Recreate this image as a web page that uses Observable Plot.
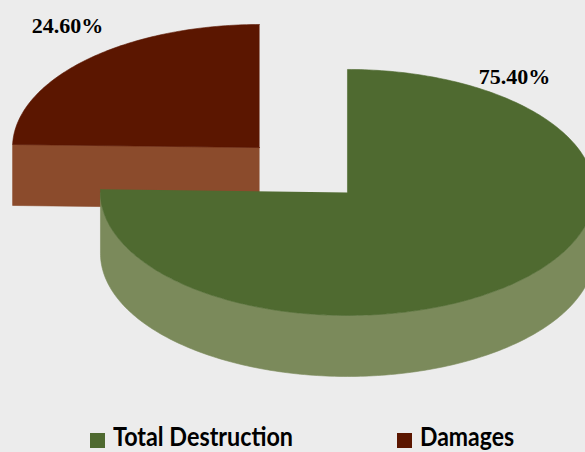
<!DOCTYPE html>
<html><head><meta charset="utf-8">
<script src="https://cdn.jsdelivr.net/npm/d3@7"></script>
<script src="https://cdn.jsdelivr.net/npm/@observablehq/plot@0.6"></script>
<style>
html,body{margin:0;padding:0;background:#ececec;overflow:hidden;width:585px;height:452px}
#chart svg{display:block}
#legend{position:absolute;left:0;top:0;width:585px;height:452px;font-family:Lato,"Open Sans",sans-serif;font-weight:bold;font-size:27px;color:#000}
.sw{position:absolute;width:15px;height:15px}
.lab{position:absolute;white-space:nowrap;line-height:normal;transform-origin:left center}
</style></head><body><div id="chart"></div><div id="legend"></div>
<script>
// ---- data ----
const categories = ["Total Destruction", "Damages"];
const shares = [75.4, 24.6];
const labels = ["75.40%", "24.60%"];

// ---- style / layout ----
const W = 585, H = 425;
const topColors = ["#4f6a30", "#5b1600"];
const sideColors = ["#7b8a5b", "#8b4b2c"];
const cx0 = 303, cy0 = 169.5, rx = 247, ry = 123, depth = 61, explode = 0.255;
const labelOffsets = [[0.676, -0.94], [-0.777, -0.985]];
const legendSwatchX = [90, 397], legendTextX = [113, 420], legendTextWidth = [180, 94];
const legendSwatchY = 433, legendTextTop = 419;

const total = d3.sum(shares);
let acc = 0;
const slices = shares.map((v, i) => {
  const a0 = acc; acc += v / total * 2 * Math.PI;
  const a1 = acc, m = (a0 + a1) / 2;
  return {i, a0, a1, cx: cx0 + explode * rx * Math.sin(m), cy: cy0 - explode * ry * Math.cos(m)};
});
const pt = (s, t, dz = 0) => ({x: s.cx + rx * Math.sin(t), y: s.cy - ry * Math.cos(t) + dz});
function arc(s, t0, t1, dz) {
  const n = Math.max(2, Math.ceil(Math.abs(t1 - t0) / (Math.PI / 180)));
  return d3.range(n + 1).map(k => pt(s, t0 + (t1 - t0) * k / n, dz));
}
const polys = [];
const order = slices.slice().sort((a, b) => a.cy - b.cy);
for (const s of order) {
  const c = {x: s.cx, y: s.cy}, cd = {x: s.cx, y: s.cy + depth};
  if (Math.sin(s.a0) < -1e-6) polys.push({color: sideColors[s.i], pts: [c, pt(s, s.a0), pt(s, s.a0, depth), cd]});
  if (Math.sin(s.a1) > 1e-6) polys.push({color: sideColors[s.i], pts: [c, pt(s, s.a1), pt(s, s.a1, depth), cd]});
  const lo = Math.max(s.a0, Math.PI / 2), hi = Math.min(s.a1, 3 * Math.PI / 2);
  if (lo < hi) polys.push({color: sideColors[s.i], pts: arc(s, lo, hi, 0).concat(arc(s, hi, lo, depth))});
  polys.push({color: topColors[s.i], pts: [c].concat(arc(s, s.a0, s.a1, 0))});
}
const labelData = slices.map(s => ({
  text: labels[s.i],
  x: s.cx + labelOffsets[s.i][0] * rx,
  y: s.cy + labelOffsets[s.i][1] * ry
}));

const chart = Plot.plot({
  width: W, height: H, margin: 0,
  style: {background: "transparent", overflow: "hidden"},
  x: {domain: [0, W], range: [0, W], axis: null},
  y: {domain: [0, H], range: [0, H], axis: null},
  marks: [
    ...polys.map(p => Plot.line(p.pts, {x: "x", y: "y", fill: p.color, stroke: p.color, strokeWidth: 0.6, curve: "linear", clip: true})),
    Plot.text(labelData, {x: "x", y: "y", text: "text", fontFamily: "Liberation Serif, serif", fontWeight: "bold", fontSize: 22, fill: "#000"})
  ]
});
document.getElementById("chart").appendChild(chart);

// legend
const leg = document.getElementById("legend");
categories.forEach((name, i) => {
  const sw = document.createElement("div"); sw.className = "sw";
  sw.style.left = legendSwatchX[i] + "px"; sw.style.top = legendSwatchY + "px"; sw.style.background = topColors[i];
  const lab = document.createElement("div"); lab.className = "lab"; lab.textContent = name;
  lab.style.left = legendTextX[i] + "px"; lab.style.top = legendTextTop + "px";
  leg.appendChild(sw); leg.appendChild(lab);
  const w = lab.getBoundingClientRect().width;
  lab.style.transform = `scaleX(${legendTextWidth[i] / w})`;
});
</script></body></html>
